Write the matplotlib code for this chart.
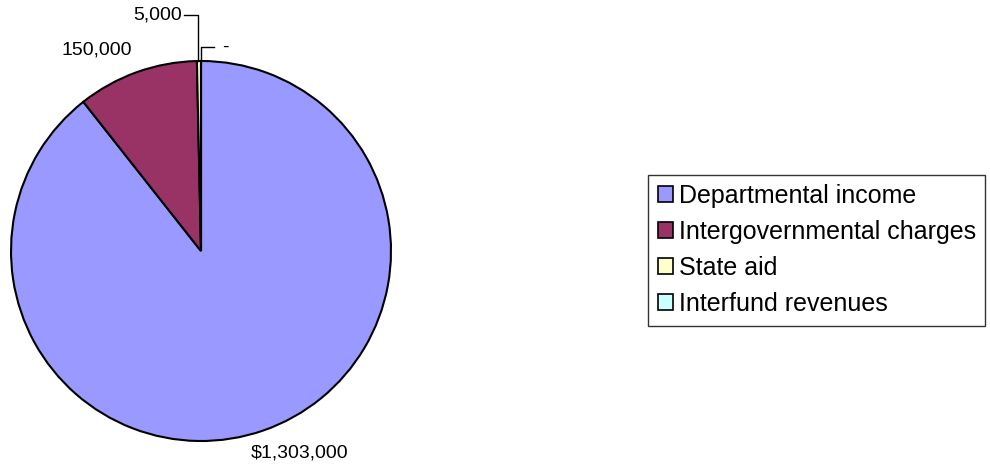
import numpy as np
import matplotlib.pyplot as plt

# data
categories = ["Departmental income", "Intergovernmental charges", "State aid", "Interfund revenues"]
values = [1303000, 150000, 5000, 0]
colors = ["#9999FF", "#993366", "#FFFFCC", "#CCFFFF"]

plt.rcParams['font.family'] = ['Liberation Sans', 'DejaVu Sans']

W, H = 990, 468
fig = plt.figure(figsize=(W / 100, H / 100), dpi=100)
ax = fig.add_axes([0, 0, 1, 1])

# work in pixel coords (y flipped so numbers match the image)
cx, cy, r = 201, H - 251, 190

wedges, _ = ax.pie(values, colors=colors, startangle=90, counterclock=False,
                   center=(cx, cy), radius=r, frame=True,
                   wedgeprops=dict(edgecolor="black", linewidth=1.5))

ax.set_xlim(0, W)
ax.set_ylim(0, H)
ax.set_aspect("equal")
ax.axis("off")


def fmt(i, v):
    if v == 0:
        return "-"
    s = f"{v:,}"
    return "$" + s if i == 0 else s


labels = [fmt(i, v) for i, v in enumerate(values)]

# label positions (image pixels)
lab_pos = [(300, 453, "center"), (97, 50, "center"), (182, 15, "right"), (222, 47, "left")]
for (x, y, ha), txt in zip(lab_pos, labels):
    ax.text(x, H - y, txt, ha=ha, va="center", fontsize=14, color="black")

# leader lines for the tiny slices
ax.plot([184, 198, 198], [H - 15, H - 15, H - 61], color="black", lw=1)
ax.plot([201, 201, 214], [H - 61, H - 47, H - 47], color="black", lw=1)

leg = ax.legend(wedges, categories, loc="center left",
                bbox_to_anchor=(648 / W, 1 - 250 / H), bbox_transform=fig.transFigure,
                fontsize=18, frameon=True, fancybox=False, shadow=False,
                handlelength=0.6, handleheight=0.6, handletextpad=0.25,
                labelspacing=0.48, borderpad=0.38, borderaxespad=0)
leg.get_frame().set_edgecolor("black")
leg.get_frame().set_linewidth(1.0)
for h in leg.legend_handles:
    h.set_linewidth(1.2)

fig.savefig("out.png", dpi=100)
